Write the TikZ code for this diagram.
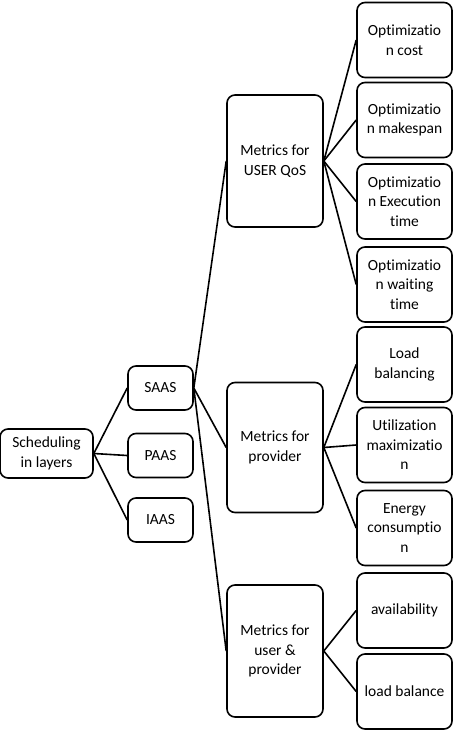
\documentclass[tikz,border=0pt]{standalone}
\usepackage{fontspec}
\setmainfont{Carlito}[Ligatures=NoCommon]
\usetikzlibrary{positioning}

\begin{document}
\begin{tikzpicture}[x=1pt,y=-1pt,
  box/.style={draw,line width=1.6pt,rounded corners=8pt,align=center,inner sep=1pt,
    font=\fontsize{15.5}{19.5}\selectfont},
  layer/.style={box,minimum width=65pt,minimum height=44pt},
  metric/.style={box,minimum width=96pt,minimum height=130pt},
  leaf/.style={box,minimum width=95pt,minimum height=75pt},
  link/.style={line width=1.6pt}]
  \useasboundingbox (0,0) rectangle (454,731);
  \node[box,minimum width=93pt,minimum height=49pt] (sched) at (46.5,453.5) {Scheduling\\in layers};
  \node[layer] (saas) at (160.5,388) {SAAS};
  \node[layer] (paas) at (160.5,455.5) {PAAS};
  \node[layer] (iaas) at (160.5,520) {IAAS};
  \node[metric,minimum height=132pt] (qos) at (275,161) {Metrics for\\USER QoS};
  \node[metric] (prov) at (275,447.5) {Metrics for\\provider};
  \node[metric,minimum height=132pt] (both) at (275,651) {Metrics for\\user \&\\provider};
  \node[leaf] (cost) at (404.5,40) {Optimizatio\\n cost};
  \node[leaf] (span) at (404.5,120) {Optimizatio\\n makespan};
  \node[leaf] (exec) at (404.5,201.5) {Optimizatio\\n Execution\\time};
  \node[leaf] (wait) at (404.5,284.5) {Optimizatio\\n waiting\\time};
  \node[leaf] (load) at (404.5,364.5) {Load\\balancing};
  \node[leaf] (util) at (404.5,445) {Utilization\\maximizatio\\n};
  \node[leaf] (energy) at (404.5,528) {Energy\\consumptio\\n};
  \node[leaf] (avail) at (404.5,610.5) {availability};
  \node[leaf] (bal) at (404.5,691.5) {load balance};
  % layers
  \draw[link] (sched.east) -- (saas.west);
  \draw[link] (sched.east) -- (paas.west);
  \draw[link] (sched.east) -- (iaas.west);
  % metrics
  \draw[link] (saas.east) -- (qos.west);
  \draw[link] (saas.east) -- (prov.west);
  \draw[link] (saas.east) -- (both.west);
  % leaves
  \foreach \l in {cost,span,exec,wait}
    \draw[link] (qos.east) -- (\l.west);
  \foreach \l in {load,util,energy}
    \draw[link] (prov.east) -- (\l.west);
  \foreach \l in {avail,bal}
    \draw[link] (both.east) -- (\l.west);
\end{tikzpicture}
\end{document}
